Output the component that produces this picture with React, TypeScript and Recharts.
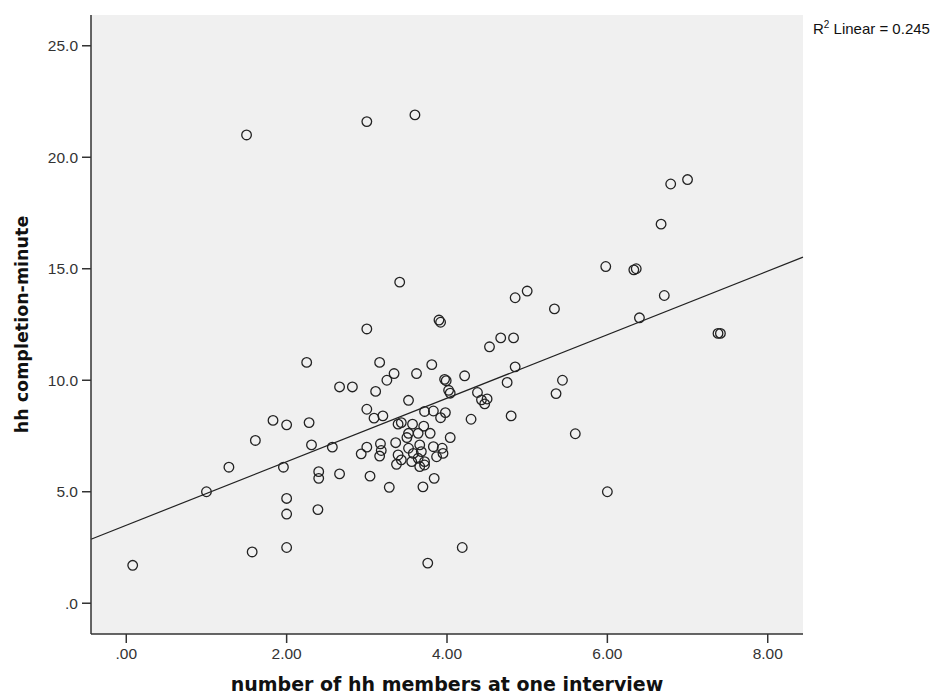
import { ScatterChart, Scatter, XAxis, YAxis, CartesianGrid, ReferenceLine } from "recharts"

// number of hh members at one interview
const members = [
  0.08, 1.0, 1.28, 1.5, 1.57, 1.61, 1.83, 1.96, 2.0, 2.0, 2.0, 2.0, 2.25, 2.28, 2.31, 2.4, 2.4, 2.39,
  2.57, 2.66, 2.82, 2.66, 2.93, 3.0, 3.0, 3.0, 3.0, 3.04, 3.09, 3.11, 3.16, 3.17, 3.18, 3.16, 3.2, 3.25,
  3.28, 3.34, 3.36, 3.39, 3.43, 3.39, 3.43, 3.37, 3.41, 3.52, 3.5, 3.52, 3.52, 3.57, 3.58, 3.56, 3.6, 3.62,
  3.64, 3.64, 3.66, 3.68, 3.66, 3.7, 3.71, 3.72, 3.72, 3.72, 3.76, 3.79, 3.81, 3.83, 3.83, 3.84, 3.87, 3.9,
  3.92, 3.92, 3.94, 3.95, 3.97, 3.99, 3.98, 4.02, 4.04, 4.04, 4.19, 4.22, 4.3, 4.38, 4.43, 4.5, 4.47, 4.53,
  4.67, 4.75, 4.8, 4.83, 4.85, 4.85, 5.0, 5.34, 5.36, 5.44, 5.6, 5.98, 6.0, 6.33, 6.36, 6.4, 6.67, 6.71,
  6.79, 7.0, 7.38, 7.41,
]

// hh completion-minute
const minutes = [
  1.7, 5.0, 6.1, 21.0, 2.3, 7.3, 8.2, 6.1, 8.0, 4.7, 4.0, 2.5, 10.8, 8.1, 7.1, 5.9, 5.6, 4.2,
  7.0, 9.7, 9.7, 5.8, 6.7, 8.7, 7.0, 12.3, 21.6, 5.7, 8.3, 9.5, 10.8, 7.15, 6.85, 6.6, 8.4, 10.0,
  5.2, 10.3, 7.2, 8.03, 8.1, 6.65, 6.43, 6.23, 14.4, 9.1, 7.43, 7.62, 6.95, 8.03, 6.72, 6.35, 21.9, 10.3,
  7.62, 6.5, 7.1, 6.8, 6.13, 5.22, 7.94, 8.6, 6.35, 6.2, 1.8, 7.62, 10.7, 8.62, 7.02, 5.6, 6.57, 12.7,
  12.6, 8.32, 6.95, 6.72, 10.04, 9.98, 8.55, 9.55, 9.42, 7.43, 2.5, 10.2, 8.25, 9.45, 9.12, 9.16, 8.94, 11.5,
  11.9, 9.9, 8.4, 11.9, 10.6, 13.7, 14.0, 13.2, 9.4, 10.0, 7.6, 15.1, 5.0, 14.95, 15.0, 12.8, 17.0, 13.8,
  18.8, 19.0, 12.1, 12.1,
]

// fit line end points, read at the plot edges
const fitLine = [
  { x: -0.44, y: 2.87 },
  { x: 8.44, y: 15.52 },
]

const xTicks = [0, 2, 4, 6, 8]
const yTicks = [0, 5, 10, 15, 20, 25]
const xDomain = [-0.44, 8.44]
const yDomain = [-1.38, 26.38]

const points = members.map((m, i) => ({ members: m, minutes: minutes[i] }))

const fmtX = (v: number) => (v === 0 ? ".00" : v.toFixed(2))
const fmtY = (v: number) => (v === 0 ? ".0" : v.toFixed(1))

const tickStyle = { fontFamily: "Liberation Sans, Arial, sans-serif", fontSize: 15.5, fill: "#333" }
const titleStyle = { fontFamily: "DejaVu Sans, Verdana, sans-serif", fontWeight: "bold", fill: "#111" }

const Ring = (props: any) => (
  <circle cx={props.cx} cy={props.cy} r={4.8} fill="none" stroke="#222" strokeWidth={1.3} />
)

export default function App() {
  return (
    <div style={{ position: "relative", width: 936, height: 689 }}>
      <ScatterChart width={936} height={689} margin={{ top: 7, right: 141, bottom: 0, left: 0 }}>
        <CartesianGrid fill="#f0f0f0" horizontal={false} vertical={false} />
        <XAxis
          type="number"
          dataKey="members"
          domain={xDomain}
          allowDataOverflow
          ticks={xTicks}
          tickFormatter={fmtX}
          height={63}
          tickSize={9}
          tickMargin={5}
          tick={tickStyle}
          axisLine={{ stroke: "#333", strokeWidth: 1.5 }}
          tickLine={{ stroke: "#333", strokeWidth: 1.5 }}
          label={{ value: "number of hh members at one interview", position: "insideBottom", offset: 6, style: { ...titleStyle, fontSize: 19 } }}
        />
        <XAxis
          xAxisId="top"
          orientation="top"
          type="number"
          domain={xDomain}
          allowDataOverflow
          height={0}
          tick={false}
          tickLine={false}
          axisLine={{ stroke: "#8a8a8a", strokeWidth: 1.8 }}
        />
        <YAxis
          type="number"
          dataKey="minutes"
          domain={yDomain}
          allowDataOverflow
          ticks={yTicks}
          tickFormatter={fmtY}
          width={83}
          tickSize={9}
          tickMargin={4}
          tick={tickStyle}
          axisLine={{ stroke: "#333", strokeWidth: 1.5 }}
          tickLine={{ stroke: "#333", strokeWidth: 1.5 }}
          label={{ value: "hh completion-minute", angle: -90, position: "insideLeft", offset: 14, style: { ...titleStyle, fontSize: 17.5, textAnchor: "middle" } }}
        />
        <YAxis
          yAxisId="right"
          orientation="right"
          type="number"
          domain={yDomain}
          allowDataOverflow
          width={0}
          tick={false}
          tickLine={false}
          axisLine={{ stroke: "#8a8a8a", strokeWidth: 2 }}
        />
        <ReferenceLine segment={fitLine} stroke="#222" strokeWidth={1.2} />
        <Scatter data={points} shape={Ring} isAnimationActive={false} />
      </ScatterChart>
      <div
        style={{
          position: "absolute",
          left: 805,
          top: 11,
          fontFamily: "Liberation Sans, Arial, sans-serif",
          fontSize: 15,
          color: "#111",
          whiteSpace: "nowrap",
        }}
      >
        R<sup style={{ fontSize: 10 }}>2</sup> Linear = 0.245
      </div>
    </div>
  )
}
